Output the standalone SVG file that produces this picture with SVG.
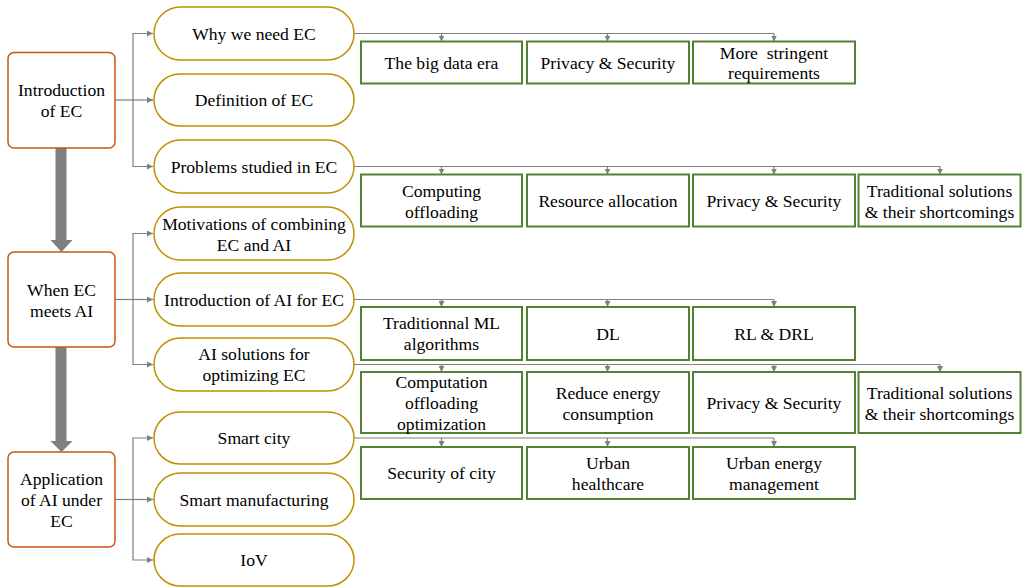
<svg xmlns="http://www.w3.org/2000/svg" width="1023" height="587" viewBox="0 0 1023 587">
<style>
text{font-family:"Liberation Serif","Times New Roman",serif;font-size:17.6px;fill:#000;text-anchor:middle;white-space:pre}
.main{fill:#fff;stroke:#C55A11;stroke-width:1.5}
.pill{fill:#fff;stroke:#BF9000;stroke-width:1.5}
.leaf{fill:#fff;stroke:#548235;stroke-width:2}
.con{fill:none;stroke:#7F7F7F;stroke-width:1.2}
.arr{fill:none;stroke:#7F7F7F;stroke-width:1.2;marker-end:url(#ah)}
.big{fill:#7F7F7F}
</style>
<defs>
<marker id="ah" markerUnits="userSpaceOnUse" markerWidth="7" markerHeight="6" refX="6" refY="3" orient="auto">
<path d="M0,0 L6,3 L0,6 z" fill="#7F7F7F"/>
</marker>
</defs>
<rect width="1023" height="587" fill="#fff"/>
<g id="connectors">
<rect class="big" x="55.5" y="148" width="11" height="92"/>
<polygon class="big" points="50.5,240 72.5,240 61.5,252"/>
<rect class="big" x="55.5" y="347" width="11" height="94"/>
<polygon class="big" points="50.5,441 72.5,441 61.5,452"/>
<path class="con" d="M115,100 H133"/>
<path class="arr" d="M133,100 V33.5 H153"/>
<path class="arr" d="M133,100 H153"/>
<path class="arr" d="M133,100 V166.5 H153"/>
<path class="con" d="M115,299.5 H133"/>
<path class="arr" d="M133,299.5 V233.5 H153"/>
<path class="arr" d="M133,299.5 H153"/>
<path class="arr" d="M133,299.5 V364.5 H153"/>
<path class="con" d="M115,499.5 H133"/>
<path class="arr" d="M133,499.5 V438 H153"/>
<path class="arr" d="M133,499.5 H153"/>
<path class="arr" d="M133,499.5 V560 H153"/>
<path class="con" d="M354,33.5 H774"/>
<path class="arr" d="M441.5,33.5 V41.5"/>
<path class="arr" d="M607.5,33.5 V41.5"/>
<path class="arr" d="M774,33.5 V41.5"/>
<path class="con" d="M354,166.5 H940"/>
<path class="arr" d="M441.5,166.5 V174.5"/>
<path class="arr" d="M607.5,166.5 V174.5"/>
<path class="arr" d="M774,166.5 V174.5"/>
<path class="arr" d="M940,166.5 V174.5"/>
<path class="con" d="M354,299.5 H774"/>
<path class="arr" d="M441.5,299.5 V307"/>
<path class="arr" d="M607.5,299.5 V307"/>
<path class="arr" d="M774,299.5 V307"/>
<path class="con" d="M354,364.5 H940"/>
<path class="arr" d="M441.5,364.5 V372"/>
<path class="arr" d="M607.5,364.5 V372"/>
<path class="arr" d="M774,364.5 V372"/>
<path class="arr" d="M940,364.5 V372"/>
<path class="con" d="M354,438 H774"/>
<path class="arr" d="M441.5,438 V447"/>
<path class="arr" d="M607.5,438 V447"/>
<path class="arr" d="M774,438 V447"/>
</g>

<g id="intro-ec"><rect class="main" x="8" y="52.5" width="107" height="95.5" rx="6"/><text x="61.5" y="95.5">Introduction</text><text x="61.5" y="116.5">of EC</text></g>
<g id="when-ec-ai"><rect class="main" x="8" y="252" width="107" height="95" rx="6"/><text x="61.5" y="295.5">When EC</text><text x="61.5" y="316.5">meets AI</text></g>
<g id="application"><rect class="main" x="8" y="452" width="107" height="95" rx="6"/><text x="61.5" y="484.5">Application</text><text x="61.5" y="505.5">of AI under</text><text x="61.5" y="527">EC</text></g>

<g id="why-need-ec"><rect class="pill" x="154" y="7" width="200" height="53" rx="26.5"/><text x="254" y="39.5">Why we need EC</text></g>
<g id="definition-ec"><rect class="pill" x="154" y="74" width="200" height="52" rx="26"/><text x="254" y="106">Definition of EC</text></g>
<g id="problems-ec"><rect class="pill" x="154" y="140" width="200" height="53" rx="26.5"/><text x="254" y="172.5">Problems studied in EC</text></g>
<g id="motivations"><rect class="pill" x="154" y="207" width="200" height="53" rx="26.5"/><text x="254" y="229.5">Motivations of combining</text><text x="254" y="250.5">EC and AI</text></g>
<g id="intro-ai"><rect class="pill" x="154" y="273" width="200" height="53" rx="26.5"/><text x="254" y="305.5">Introduction of AI for EC</text></g>
<g id="ai-solutions"><rect class="pill" x="154" y="338" width="200" height="53" rx="26.5"/><text x="254" y="359.5">AI solutions for</text><text x="254" y="380.5">optimizing EC</text></g>
<g id="smart-city"><rect class="pill" x="154" y="412" width="200" height="52" rx="26"/><text x="254" y="444">Smart city</text></g>
<g id="smart-manufacturing"><rect class="pill" x="154" y="473" width="200" height="53" rx="26.5"/><text x="254" y="505.5">Smart manufacturing</text></g>
<g id="iov"><rect class="pill" x="154" y="534" width="200" height="52" rx="26"/><text x="254" y="566">IoV</text></g>

<g id="big-data"><rect class="leaf" x="361" y="41.5" width="161" height="42"/><text x="441.5" y="68.5">The big data era</text></g>
<g id="privacy-1"><rect class="leaf" x="527" y="41.5" width="162" height="42"/><text x="608" y="68.5">Privacy &amp; Security</text></g>
<g id="stringent"><rect class="leaf" x="693" y="41.5" width="162" height="42"/><text x="774" y="58.5">More  stringent</text><text x="774" y="79">requirements</text></g>

<g id="computing-offloading"><rect class="leaf" x="361" y="174.5" width="161" height="52"/><text x="441.5" y="196.5">Computing</text><text x="441.5" y="217.5">offloading</text></g>
<g id="resource-allocation"><rect class="leaf" x="527" y="174.5" width="162" height="52"/><text x="608" y="206.5">Resource allocation</text></g>
<g id="privacy-2"><rect class="leaf" x="693" y="174.5" width="162" height="52"/><text x="774" y="206.5">Privacy &amp; Security</text></g>
<g id="traditional-1"><rect class="leaf" x="858.5" y="174.5" width="162" height="52"/><text x="939.5" y="196.5">Traditional solutions</text><text x="939.5" y="217.5">&amp; their shortcomings</text></g>

<g id="traditional-ml"><rect class="leaf" x="361" y="307" width="161" height="53"/><text x="441.5" y="329">Traditionnal ML</text><text x="441.5" y="350">algorithms</text></g>
<g id="dl"><rect class="leaf" x="527" y="307" width="162" height="53"/><text x="608" y="339.5">DL</text></g>
<g id="rl-drl"><rect class="leaf" x="693" y="307" width="162" height="53"/><text x="774" y="339.5">RL &amp; DRL</text></g>

<g id="computation-offloading"><rect class="leaf" x="361" y="372" width="161" height="61"/><text x="441.5" y="387.5">Computation</text><text x="441.5" y="408.5">offloading</text><text x="441.5" y="429.5">optimization</text></g>
<g id="reduce-energy"><rect class="leaf" x="527" y="372" width="162" height="61"/><text x="608" y="399">Reduce energy</text><text x="608" y="420">consumption</text></g>
<g id="privacy-3"><rect class="leaf" x="693" y="372" width="162" height="61"/><text x="774" y="408.5">Privacy &amp; Security</text></g>
<g id="traditional-2"><rect class="leaf" x="858.5" y="372" width="162" height="61"/><text x="939.5" y="398.5">Traditional solutions</text><text x="939.5" y="419.5">&amp; their shortcomings</text></g>

<g id="security-city"><rect class="leaf" x="361" y="447" width="161" height="52"/><text x="441.5" y="479">Security of city</text></g>
<g id="urban-healthcare"><rect class="leaf" x="527" y="447" width="162" height="52"/><text x="608" y="468.5">Urban</text><text x="608" y="489.5">healthcare</text></g>
<g id="urban-energy"><rect class="leaf" x="693" y="447" width="162" height="52"/><text x="774" y="469">Urban energy</text><text x="774" y="490">management</text></g>
</svg>
